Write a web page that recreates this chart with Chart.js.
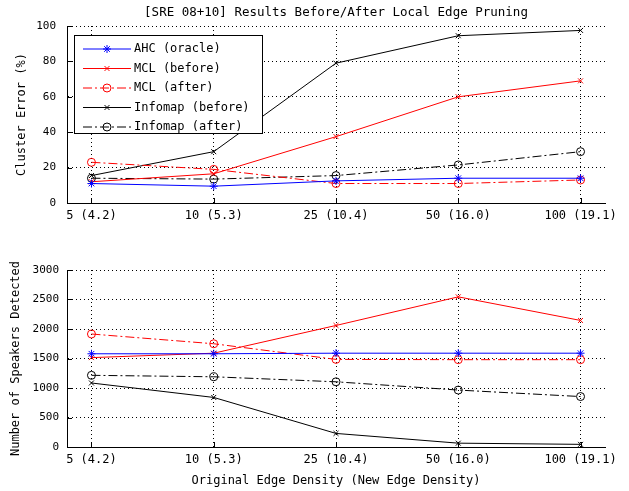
<!DOCTYPE html>
<html>
<head>
<meta charset="utf-8">
<script src="https://cdn.jsdelivr.net/npm/chart.js@4/dist/chart.umd.min.js"></script>
<style>
  body { margin: 0; background: #fff; }
  canvas { position: absolute; left: 0; }
</style>
</head>
<body>
<canvas id="errChart" width="629" height="250" style="top:0px"></canvas>
<canvas id="spkChart" width="629" height="241" style="top:250px"></canvas>
<script>
// x categories (tick labels)
const densities = ['5 (4.2)', '10 (5.3)', '25 (10.4)', '50 (16.0)', '100 (19.1)'];
const seriesNames = ['AHC (oracle)', 'MCL (before)', 'MCL (after)', 'Infomap (before)', 'Infomap (after)'];

// top: cluster error (%)
const errAhc        = [11, 9.5, 12.5, 14, 14];
const errMclBefore  = [12, 16.5, 37.5, 60, 69];
const errMclAfter   = [23, 19, 11, 11, 13];
const errInfoBefore = [15.5, 29, 79, 94.5, 97.5];
const errInfoAfter  = [14, 13.5, 15.5, 21.5, 29];

// bottom: number of speakers detected
const spkAhc        = [1580, 1580, 1590, 1590, 1590];
const spkMclBefore  = [1515, 1590, 2060, 2545, 2145];
const spkMclAfter   = [1915, 1750, 1485, 1480, 1480];
const spkInfoBefore = [1085, 840, 230, 65, 45];
const spkInfoAfter  = [1215, 1190, 1105, 965, 855];

const FONT = 'DejaVu Sans Mono';
const dashDot = [9, 3, 2, 3];

const looks = [
  { color: '#0000ff', dash: [], point: 'star', r: 4 },
  { color: '#ff0000', dash: [], point: 'crossRot', r: 3.5 },
  { color: '#ff0000', dash: dashDot, point: 'circle', r: 4 },
  { color: '#000000', dash: [], point: 'crossRot', r: 3.5 },
  { color: '#000000', dash: dashDot, point: 'circle', r: 4 }
];

// small inward tick marks like matlab
const innerTicks = {
  id: 'innerTicks',
  afterDraw(chart) {
    const ctx = chart.ctx;
    const xs = chart.scales.x, ys = chart.scales.y;
    const a = chart.chartArea;
    ctx.save();
    ctx.strokeStyle = '#000';
    ctx.lineWidth = 1;
    ctx.beginPath();
    xs.ticks.forEach(t => {
      const px = Math.round(xs.getPixelForValue(t.value)) + 0.5;
      ctx.moveTo(px, a.bottom);
      ctx.lineTo(px, a.bottom - 5);
    });
    ys.ticks.forEach(t => {
      const py = Math.round(ys.getPixelForValue(t.value)) + 0.5;
      ctx.moveTo(a.left, py);
      ctx.lineTo(a.left + 5, py);
    });
    ctx.stroke();
    ctx.restore();
  }
};

// legend box inside the top axes
const boxLegend = {
  id: 'boxLegend',
  afterDraw(chart, args, opts) {
    if (!opts.show) return;
    const ctx = chart.ctx;
    ctx.save();
    ctx.fillStyle = '#fff';
    ctx.fillRect(74.5, 35.5, 188, 98);
    ctx.strokeStyle = '#000';
    ctx.lineWidth = 1;
    ctx.setLineDash([]);
    ctx.strokeRect(74.5, 35.5, 188, 98);
    chart.data.datasets.forEach((ds, i) => {
      const y = 49 + i * 19.5;
      ctx.strokeStyle = ds.borderColor;
      ctx.lineWidth = ds.borderWidth;
      ctx.setLineDash(ds.borderDash);
      ctx.beginPath();
      ctx.moveTo(83, y);
      ctx.lineTo(131, y);
      ctx.stroke();
      ctx.setLineDash([]);
      ctx.lineWidth = 1;
      ctx.fillStyle = 'rgba(0,0,0,0)';
      Chart.helpers.drawPoint(ctx, { pointStyle: ds.pointStyle, radius: ds.pointRadius, borderWidth: 1, rotation: 0 }, 107, y);
      ctx.fillStyle = '#000';
      ctx.font = '12px "' + FONT + '"';
      ctx.textBaseline = 'middle';
      ctx.textAlign = 'left';
      ctx.fillText(ds.label, 134, y);
    });
    ctx.restore();
  }
};

function makeChart(id, series, cfg) {
  const datasets = series.map((vals, i) => ({
    label: seriesNames[i],
    data: vals.map((v, j) => ({ x: j + 1, y: v })),
    borderColor: looks[i].color,
    borderWidth: 1,
    borderDash: looks[i].dash,
    pointStyle: looks[i].point,
    pointRadius: looks[i].r,
    pointBorderColor: looks[i].color,
    pointBackgroundColor: 'rgba(0,0,0,0)',
    pointBorderWidth: 1,
    tension: 0,
    fill: false
  }));

  return new Chart(document.getElementById(id), {
    type: 'line',
    data: { datasets },
    options: {
      responsive: false,
      animation: false,
      devicePixelRatio: 1,
      layout: { padding: { left: 0, right: 24, top: cfg.padTop, bottom: 0 } },
      plugins: {
        legend: { display: false },
        tooltip: { enabled: false },
        title: {
          display: !!cfg.title,
          text: cfg.title,
          fullSize: false,
          color: '#000',
          font: { family: FONT, size: 12.5, weight: 'normal' },
          padding: { top: 5, bottom: 6 }
        },
        boxLegend: { show: cfg.legend }
      },
      scales: {
        x: {
          type: 'linear',
          min: 0.8,
          max: 5.2,
          afterBuildTicks: axis => { axis.ticks = densities.map((d, k) => ({ value: k + 1 })); },
          afterFit: s => { s.height = cfg.xHeight; },
          ticks: {
            autoSkip: false,
            maxRotation: 0,
            padding: 6,
            color: '#000',
            font: { family: FONT, size: 12 },
            callback: v => densities[v - 1]
          },
          grid: { color: '#000', lineWidth: 1, drawTicks: false },
          border: { color: '#000', width: 1, dash: [1, 3] },
          title: {
            display: !!cfg.xTitle,
            text: cfg.xTitle,
            color: '#000',
            font: { family: FONT, size: 12 },
            padding: { top: 0, bottom: 3 }
          }
        },
        y: {
          min: cfg.yMin,
          max: cfg.yMax,
          afterFit: s => { s.width = 67; },
          ticks: {
            stepSize: cfg.yStep,
            padding: cfg.yPad,
            color: '#000',
            font: { family: FONT, size: 11 },
            callback: v => String(v)
          },
          grid: { color: '#000', lineWidth: 1, drawTicks: false },
          border: { color: '#000', width: 1, dash: [1, 3] },
          title: {
            display: true,
            text: cfg.yTitle,
            color: '#000',
            font: { family: FONT, size: 12 },
            padding: { top: cfg.yTitlePad, bottom: 0 }
          }
        }
      }
    },
    plugins: [innerTicks, boxLegend]
  });
}

makeChart('errChart',
  [errAhc, errMclBefore, errMclAfter, errInfoBefore, errInfoAfter],
  { title: '[SRE 08+10] Results Before/After Local Edge Pruning', legend: true, padTop: 0,
    xHeight: 47, xTitle: '', yMin: 0, yMax: 100, yStep: 20, yPad: 11,
    yTitle: 'Cluster Error (%)', yTitlePad: 15 });

makeChart('spkChart',
  [spkAhc, spkMclBefore, spkMclAfter, spkInfoBefore, spkInfoAfter],
  { title: '', legend: false, padTop: 20,
    xHeight: 44, xTitle: 'Original Edge Density (New Edge Density)', yMin: 0, yMax: 3000, yStep: 500, yPad: 8,
    yTitle: 'Number of Speakers Detected', yTitlePad: 9 });
</script>
</body>
</html>
